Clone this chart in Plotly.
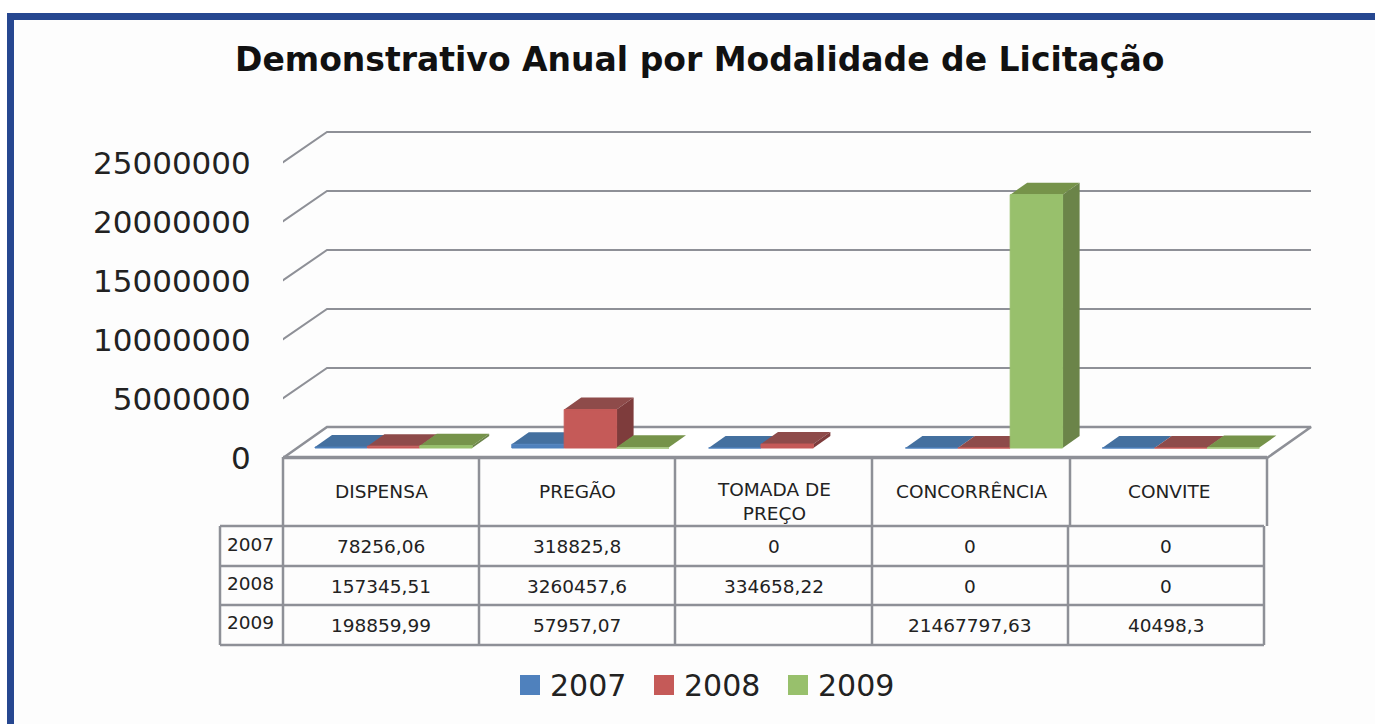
import plotly.graph_objects as go

TITLE = "Demonstrativo Anual por Modalidade de Licitação"
categories = ["DISPENSA", "PREGÃO", "TOMADA DE<br>PREÇO", "CONCORRÊNCIA", "CONVITE"]
years = ["2007", "2008", "2009"]
values_2007 = [78256.06, 318825.8, 0, 0, 0]
values_2008 = [157345.51, 3260457.6, 334658.22, 0, 0]
values_2009 = [198859.99, 57957.07, None, 21467797.63, 40498.3]
y_ticks = [0, 5000000, 10000000, 15000000, 20000000, 25000000]
series = [values_2007, values_2008, values_2009]
front_colors = ["#4F81BD", "#C55A58", "#98C06C"]
top_colors = ["#44709F", "#8E4B4A", "#76934A"]
side_colors = ["#3C638F", "#7E3C3C", "#6B8449"]

W, H = 1375, 724
LEFT = 283
CAT_PX = 196.8
Y0_PX = 458
PX_PER_VALUE = 59.0 / 5000000
GRID = "#8E9097"


def ux(px):  # pixels -> category units
    return px / CAT_PX


def uy(px):  # pixels -> value units
    return px / PX_PER_VALUE


def paper_x(px):
    return (px - LEFT) / (W - LEFT)


def paper_y(px):
    return 1 - px / H


fig = go.Figure()


def poly(xs, ys, color, line_w=0, line_color=None, mode="lines", fill="toself"):
    fig.add_trace(go.Scatter(
        x=xs, y=ys, mode=mode, fill=fill, fillcolor=color,
        line=dict(color=line_color or color, width=line_w),
        hoverinfo="skip", showlegend=False, cliponaxis=False))


# back wall and side wall gridlines
WALL_DX, WALL_DY = ux(44), uy(31)
X_END = 5.0
for t in y_ticks[1:]:
    fig.add_trace(go.Scatter(
        x=[-ux(1), WALL_DX, X_END + WALL_DX],
        y=[t, t + WALL_DY, t + WALL_DY],
        mode="lines", line=dict(color=GRID, width=2),
        hoverinfo="skip", showlegend=False, cliponaxis=False))

# floor
poly([0, WALL_DX, X_END + WALL_DX, X_END, 0],
     [0, WALL_DY, WALL_DY, 0, 0],
     "#FFFFFF", 2.5, GRID)

# bars as oblique boxes
BAR_W = ux(52.4)
START = ux(32)
BASE = uy(10)
DX, DY = ux(17), uy(12)
for c in range(len(categories)):
    for s, vals in enumerate(series):
        v = vals[c]
        if v is None:
            continue
        x0 = c + START + s * BAR_W
        x1 = x0 + BAR_W
        top = BASE + v
        poly([x0, x1, x1 + DX, x0 + DX, x0], [top, top, top + DY, top + DY, top], top_colors[s])
        if v > 0:
            poly([x1, x1 + DX, x1 + DX, x1, x1], [BASE, BASE + DY, top + DY, top, BASE], side_colors[s])
        poly([x0, x1, x1, x0, x0], [BASE, BASE, top, top, BASE], front_colors[s], 1)

shapes = []


def rect(x0, y0, x1, y1, color):
    shapes.append(dict(type="rect", xref="paper", yref="paper", layer="below",
                       x0=paper_x(x0), x1=paper_x(x1), y0=paper_y(y0), y1=paper_y(y1),
                       fillcolor=color, line=dict(width=0)))


def seg(x0, y0, x1, y1):
    shapes.append(dict(type="line", xref="paper", yref="paper", layer="above",
                       x0=paper_x(x0), x1=paper_x(x1), y0=paper_y(y0), y1=paper_y(y1),
                       line=dict(color=GRID, width=2.5)))


# picture frame
rect(7, 13, W, H, "#264790")
rect(14, 20, W, H, "#FDFDFD")

# data table grid
head_x = [283, 479, 675, 872, 1070, 1267]
data_x = [283, 479, 675, 872, 1068, 1264]
row_y = [526, 566, 605, 645]
for x in head_x:
    seg(x, 457, x, 526)
for x in data_x:
    seg(x, 526, x, 645)
seg(220, 526, 220, 645)
seg(283, 457, 1267, 457)
for y in row_y:
    seg(220, y, 1264, y)

annotations = []


def text(x, y, s, size, anchor="center", bold=False, color="#222222"):
    annotations.append(dict(
        xref="paper", yref="paper", x=paper_x(x), y=paper_y(y), text=s, showarrow=False,
        xanchor=anchor, yanchor="middle", align="center",
        font=dict(family="DejaVu Sans", size=size, color=color,
                  weight="bold" if bold else "normal")))


text(699, 59, TITLE, 33, bold=True, color="#111111")

for c, name in enumerate(categories):
    text((head_x[c] + head_x[c + 1]) / 2, 502 if "<br>" in name else 491, name, 18.5)


def fmt(v):
    return "" if v is None else str(v).replace(".", ",")


row_text_y = [546, 586, 625]
year_text_y = [544, 583, 622]
for s, vals in enumerate(series):
    text(225, year_text_y[s], years[s], 18.5, anchor="left")
    for c, v in enumerate(vals):
        if v is not None:
            text((data_x[c] + data_x[c + 1]) / 2, row_text_y[s], fmt(v), 18.5)

# legend
legend_x = [520, 654, 788]
for s, yr in enumerate(years):
    rect(legend_x[s], 675, legend_x[s] + 20, 695, front_colors[s])
    text(legend_x[s] + 28, 685, yr, 30, anchor="left")

fig.update_layout(
    width=W, height=H, autosize=False,
    margin=dict(l=LEFT, r=0, t=0, b=0),
    paper_bgcolor="#FFFFFF", plot_bgcolor="rgba(0,0,0,0)",
    showlegend=False, shapes=shapes, annotations=annotations,
    xaxis=dict(range=[0, (W - LEFT) / CAT_PX], visible=False, fixedrange=True),
    yaxis=dict(range=[uy(Y0_PX - H), uy(Y0_PX)], tickmode="array", tickvals=y_ticks,
               ticktext=[str(t) for t in y_ticks], showgrid=False, zeroline=False,
               ticks="outside", ticklen=25, tickcolor="rgba(0,0,0,0)", showline=False,
               tickfont=dict(family="DejaVu Sans", size=31, color="#222222"), fixedrange=True),
)
fig.write_html("out.html", config={"displayModeBar": False},
               post_script="document.documentElement.style.margin='0';document.body.style.margin='0';document.body.style.overflow='hidden';")
